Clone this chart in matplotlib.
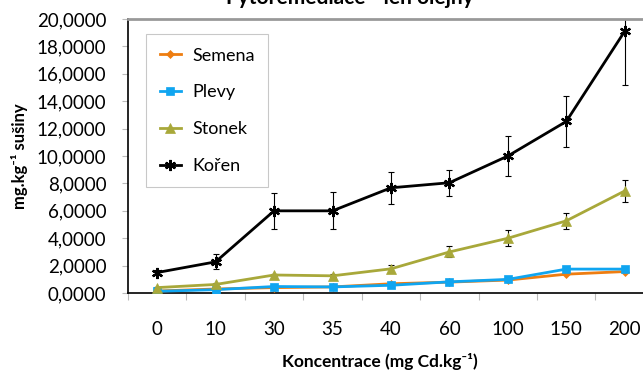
import matplotlib
matplotlib.use('Agg')
import matplotlib.pyplot as plt
from matplotlib.ticker import FuncFormatter, FixedLocator

plt.rcParams['font.family'] = ['Lato', 'DejaVu Sans']

# Cd content per plant part (mg.kg-1 dry matter)
concentrations = ["0", "10", "30", "35", "40", "60", "100", "150", "200"]
semena = [0.15, 0.30, 0.40, 0.45, 0.68, 0.80, 0.95, 1.38, 1.57]
plevy = [0.13, 0.25, 0.48, 0.45, 0.57, 0.82, 1.00, 1.75, 1.75]
stonek = [0.40, 0.63, 1.32, 1.26, 1.77, 3.00, 4.00, 5.27, 7.45]
stonek_err = [0.05, 0.08, 0.10, 0.10, 0.25, 0.40, 0.60, 0.60, 0.80]
koren = [1.50, 2.28, 6.00, 6.00, 7.68, 8.05, 10.00, 12.52, 19.10]
koren_err = [0.15, 0.55, 1.30, 1.35, 1.17, 0.95, 1.45, 1.88, 3.90]

series = [("Semena", semena, None, "#EE7D11", "D", 4),
          ("Plevy", plevy, None, "#10A5F0", "s", 6),
          ("Stonek", stonek, stonek_err, "#A8A83A", "^", 7),
          ("Kořen", koren, koren_err, "black", (6, 2, 0), 8)]

fig = plt.figure(figsize=(6.43, 3.71), dpi=100)
ax = fig.add_axes([0.199, 0.210, 0.818, 0.739])
xs = list(range(len(concentrations)))

for name, values, err, color, marker, msize in series:
    if err is not None:
        ax.errorbar(xs, values, yerr=err, fmt='none', ecolor='black',
                    elinewidth=0.8, capsize=2.5, capthick=0.8, zorder=2)
    ax.plot(xs, values, color=color, linewidth=2, marker=marker,
            markersize=msize, markeredgewidth=1.6 if name == "Kořen" else 0.5,
            markeredgecolor=color, label=name, zorder=3)

ax.set_xlim(-0.5, len(concentrations) - 0.5)
ax.set_ylim(0, 20)
ax.set_yticks(range(0, 21, 2))
ax.yaxis.set_major_formatter(FuncFormatter(lambda v, p: "%d,0000" % v))
ax.set_xticks(xs)
ax.set_xticklabels(concentrations)
ax.xaxis.set_minor_locator(FixedLocator([i - 0.5 for i in range(len(xs) + 1)]))
ax.tick_params(axis='x', which='minor', length=5, color='#BBBBBB', width=0.8)
ax.tick_params(axis='x', which='major', length=0, pad=20, labelsize=13.5)
ax.tick_params(axis='y', length=4.5, color='#BBBBBB', width=0.8, pad=11, labelsize=13.5)

for side in ['left', 'bottom']:
    ax.spines[side].set_color('black')
    ax.spines[side].set_linewidth(1.2)
ax.spines['right'].set_visible(False)
ax.spines['top'].set_color('#999999')
ax.spines['top'].set_linewidth(2)

ax.set_ylabel("mg.kg⁻¹ sušiny", fontsize=12, fontweight='bold', labelpad=6)
fig.text(380 / 643, 1 - 362 / 371, "Koncentrace (mg Cd.kg⁻¹)", ha='center',
         va='center', fontsize=12.5, fontweight='bold')
fig.text(350 / 643, 1.005, "Fytoremediace - len olejný", ha='center',
         va='center', fontsize=15, fontweight='bold')

leg = fig.legend(loc='upper left', bbox_to_anchor=(146 / 643, 1 - 34 / 371),
                 fontsize=13, handlelength=1.2, labelspacing=1.15,
                 borderpad=0.75, handletextpad=0.6, fancybox=False,
                 borderaxespad=0)
leg.get_frame().set_edgecolor('#BBBBBB')
leg.get_frame().set_linewidth(0.8)
leg.get_frame().set_boxstyle('square', pad=0)

fig.savefig("out.png", dpi=100)
